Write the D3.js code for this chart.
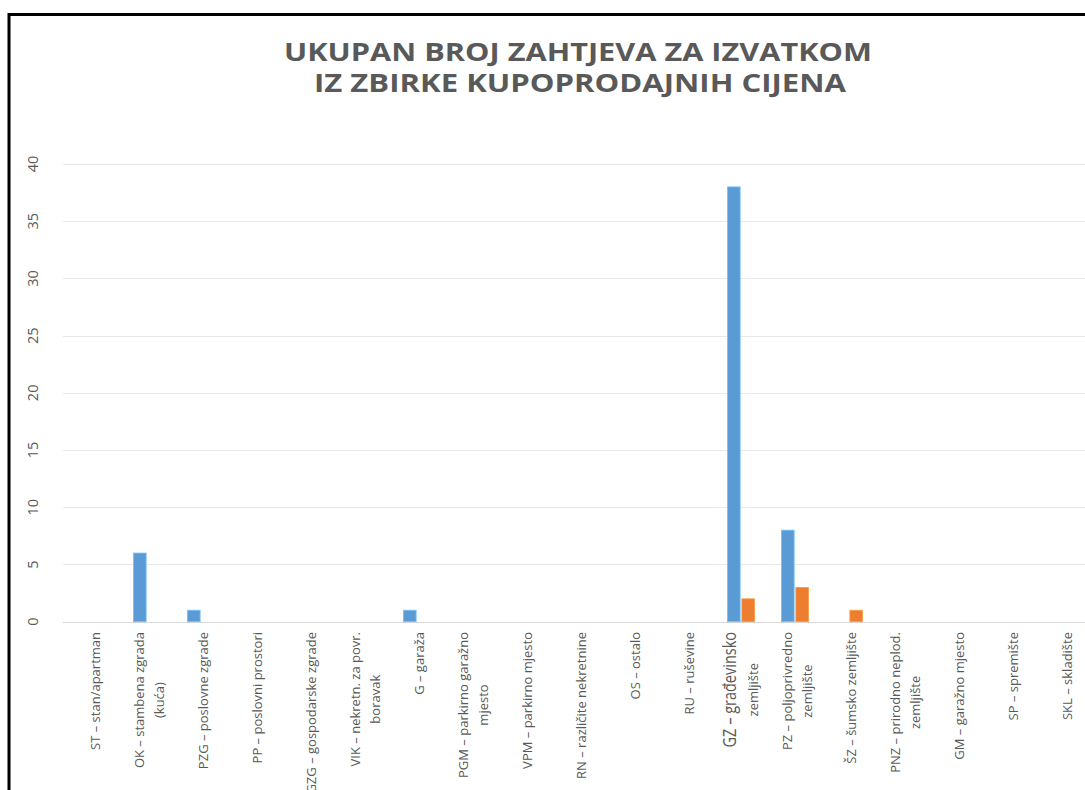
<!DOCTYPE html>
<html>
<head>
<meta charset="utf-8">
<script src="https://cdn.jsdelivr.net/npm/d3@7"></script>
<style>
  html, body { margin: 0; padding: 0; background: #fff; }
  svg { display: block; font-family: "Open Sans", "Noto Sans", sans-serif; }
</style>
</head>
<body>
<svg id="chart" width="1085" height="790"></svg>
<script>
// Property type codes (label lines are split where the axis label wraps)
const categories = [
  ["ST – stan/apartman"],
  ["OK – stambena zgrada", "(kuća)"],
  ["PZG – poslovne zgrade"],
  ["PP – poslovni prostori"],
  ["GZG – gospodarske zgrade"],
  ["VIK – nekretn. za povr.", "boravak"],
  ["G – garaža"],
  ["PGM – parkirno garažno", "mjesto"],
  ["VPM – parkirno mjesto"],
  ["RN – različite nekretnine"],
  ["OS – ostalo"],
  ["RU – ruševine"],
  ["GZ – građevinsko", "zemljište"],
  ["PZ – poljoprivredno", "zemljište"],
  ["ŠZ – šumsko zemljište"],
  ["PNZ – prirodno neplod.", "zemljište"],
  ["GM – garažno mjesto"],
  ["SP – spremište"],
  ["SKL – skladište"]
];

// Two series of request counts per property type
const seriesA = [0, 6, 1, 0, 0, 0, 1, 0, 0, 0, 0, 0, 38, 8, 0, 0, 0, 0, 0];
const seriesB = [0, 0, 0, 0, 0, 0, 0, 0, 0, 0, 0, 0, 2, 3, 1, 0, 0, 0, 0];
const seriesNames = ["A", "B"];
const seriesColors = ["#5B9BD5", "#ED7D31"];

const yTicks = [0, 5, 10, 15, 20, 25, 30, 35, 40];
const titleLines = ["UKUPAN BROJ ZAHTJEVA ZA IZVATKOM", "IZ ZBIRKE KUPOPRODAJNIH CIJENA"];

const svg = d3.select("#chart");
const W = 1085, H = 790;

// outer frame (left and top edges visible)
svg.append("path")
  .attr("d", `M9,${H} L9,14.5 L${W},14.5`)
  .attr("fill", "none")
  .attr("stroke", "#000")
  .attr("stroke-width", 3);

// title
const titleG = svg.append("g").attr("fill", "#595959")
  .attr("font-weight", "bold").attr("font-size", 24.5);
[[titleLines[0], 578, 61, 588], [titleLines[1], 580, 92, 532]].forEach(([t, cx, yy, len]) => {
  titleG.append("text")
    .attr("x", cx).attr("y", yy)
    .attr("text-anchor", "middle")
    .attr("textLength", len)
    .attr("lengthAdjust", "spacingAndGlyphs")
    .text(t);
});

// scales
const x = d3.scaleBand()
  .domain(d3.range(categories.length))
  .range([66, 66 + 54 * categories.length])
  .paddingInner(0).paddingOuter(0);

const xSub = d3.scaleBand()
  .domain(seriesNames)
  .range([-13.5, 13.5])
  .paddingInner(0.12);

const y = d3.scaleLinear().domain([0, 40]).range([621.7, 164]);

// gridlines
svg.append("g").selectAll("line")
  .data(yTicks)
  .join("line")
  .attr("x1", 63).attr("x2", W)
  .attr("y1", d => Math.round(y(d)) + 0.5)
  .attr("y2", d => Math.round(y(d)) + 0.5)
  .attr("stroke", d => d === 0 ? "#d9d9d9" : "#e8e8e8")
  .attr("stroke-width", 1.2);

// y tick labels, rotated
svg.append("g").selectAll("text")
  .data(yTicks)
  .join("text")
  .attr("transform", d => `translate(33,${y(d)}) rotate(-90)`)
  .attr("text-anchor", "middle")
  .attr("dy", "0.36em")
  .attr("font-size", 14.5)
  .attr("fill", "#595959")
  .text(d => d);

// bars
const rows = categories.map((c, i) => ({ i, values: [seriesA[i], seriesB[i]] }));
const groups = svg.append("g").selectAll("g")
  .data(rows)
  .join("g")
  .attr("transform", d => `translate(${x(d.i) + x.bandwidth() / 2},0)`);

groups.selectAll("rect")
  .data(d => d.values.map((v, k) => ({ v, k })).filter(e => e.v > 0))
  .join("rect")
  .attr("x", e => xSub(seriesNames[e.k]))
  .attr("width", xSub.bandwidth())
  .attr("y", e => y(e.v))
  .attr("height", e => y(0) - y(e.v))
  .attr("fill", e => seriesColors[e.k])
  .attr("stroke", e => d3.color(seriesColors[e.k]).brighter(0.6))
  .attr("stroke-width", 0.8);

// category labels, rotated, wrapped lines centred on the longest line
const labelTop = 632;
const lineGap = 20;
const labelG = svg.append("g").attr("fill", "#595959");
categories.forEach((lines, i) => {
  const cx = x(i) + x.bandwidth() / 2;
  const n = lines.length;
  const g = labelG.append("g")
    .attr("transform", `translate(${cx + 2},${labelTop}) rotate(-90)`);
  const texts = lines.map((t, j) => {
    const big = (i === 12 && j === 0);
    const off = (j - (n - 1) / 2) * lineGap + (big ? -3 : 0);
    return g.append("text")
      .attr("transform", `translate(0,${off}) scale(1,${big ? 1.2 : 1})`)
      .attr("dy", "0.36em")
      .attr("font-size", big ? 14.5 : 13)
      .text(t);
  });
  const lens = texts.map(t => t.node().getComputedTextLength());
  const L = d3.max(lens);
  texts.forEach(t => t.attr("text-anchor", "middle").attr("x", -L / 2));
});
</script>
</body>
</html>
